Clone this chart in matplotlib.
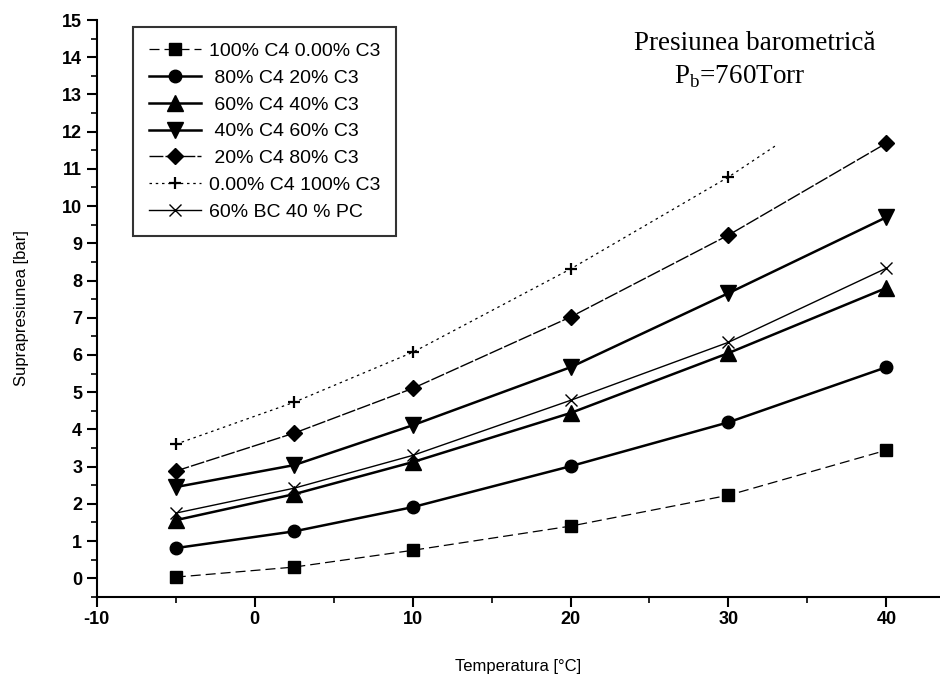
import matplotlib
matplotlib.use("Agg")
import matplotlib.pyplot as plt
from matplotlib.patches import Rectangle
from matplotlib.ticker import MultipleLocator
import numpy as np

# temperatures [°C]
temperatures = [-5, 2.5, 10, 20, 30, 40]

# overpressure [bar] per mixture
c4_100 = [0.03, 0.30, 0.75, 1.40, 2.23, 3.44]
c4_80 = [0.81, 1.26, 1.91, 3.01, 4.19, 5.67]
c4_60 = [1.56, 2.26, 3.12, 4.44, 6.05, 7.80]
c4_40 = [2.45, 3.04, 4.11, 5.67, 7.66, 9.70]
c4_20 = [2.88, 3.90, 5.10, 7.02, 9.22, 11.69]
c4_0 = [3.60, 4.73, 6.07, 8.31, 10.78, 13.60]
bc60_pc40 = [1.75, 2.42, 3.30, 4.78, 6.34, 8.33]

labels = [
    "100% C4 0.00% C3",
    " 80% C4 20% C3",
    " 60% C4 40% C3",
    " 40% C4 60% C3",
    " 20% C4 80% C3",
    "0.00% C4 100% C3",
    "60% BC 40 % PC",
]

plt.rcParams["font.family"] = ["Liberation Sans", "DejaVu Sans"]
plt.rcParams["axes.unicode_minus"] = False

fig = plt.figure(figsize=(9.4, 6.79), dpi=100)
ax = fig.add_axes([0.103, 0.121, 0.897, 0.8495])

ax.plot(temperatures, c4_100, color="black", lw=0.9, ls=(0, (8, 4)),
        marker="s", ms=9, label=labels[0], zorder=3)
ax.plot(temperatures, c4_80, color="black", lw=1.8, ls="-",
        marker="o", ms=9, label=labels[1], zorder=3)
ax.plot(temperatures, c4_60, color="black", lw=1.8, ls="-",
        marker="^", ms=11, label=labels[2], zorder=3)
ax.plot(temperatures, c4_40, color="black", lw=1.8, ls="-",
        marker="v", ms=11, label=labels[3], zorder=3)
ax.plot(temperatures, c4_20, color="black", lw=1.0, ls=(0, (10, 1.5)),
        marker="D", ms=8, label=labels[4], zorder=3)
ax.plot(temperatures, c4_0, color="black", lw=0.9, ls=(0, (2, 3)),
        marker="+", ms=9, mew=1.6, label=labels[5], zorder=2)
ax.plot(temperatures, bc60_pc40, color="black", lw=1.0, ls="-",
        marker="x", ms=9, mew=1.0, label=labels[6], zorder=3)

# white area behind the annotation hides the end of the 100% C3 curve
ax.add_patch(Rectangle((0.807, 0.775), 0.2, 0.24, transform=ax.transAxes,
                       facecolor="white", edgecolor="none", zorder=2.5))

ax.text(0.78, 0.96, "Presiunea barometrică", transform=ax.transAxes,
        ha="center", va="center", fontsize=19.5, family="Liberation Serif")
ax.text(0.762, 0.901, r"P$_\mathregular{b}$=760Torr", transform=ax.transAxes,
        ha="center", va="center", fontsize=19.5, family="Liberation Serif")

ax.set_xlim(-10, 43.4)
ax.set_ylim(-0.5, 15)
ax.xaxis.set_major_locator(MultipleLocator(10))
ax.xaxis.set_minor_locator(MultipleLocator(5))
ax.yaxis.set_major_locator(MultipleLocator(1))
ax.yaxis.set_minor_locator(MultipleLocator(0.5))
ax.set_yticks(np.arange(0, 16, 1))

for side in ["top", "right"]:
    ax.spines[side].set_visible(False)
ax.spines["left"].set_linewidth(1.5)
ax.spines["bottom"].set_linewidth(1.5)
ax.tick_params(which="major", direction="out", length=7, width=1.5,
               labelsize=13)
ax.tick_params(which="minor", direction="out", length=4, width=1.2)
for lbl in ax.get_xticklabels() + ax.get_yticklabels():
    lbl.set_fontweight("bold")

ax.set_xlabel("Temperatura [°C]", fontsize=12,
              family=["Liberation Sans Narrow", "Liberation Sans"],
              labelpad=22)
ax.set_ylabel("Suprapresiunea [bar]", fontsize=12, labelpad=24)

leg = ax.legend(loc="upper left", bbox_to_anchor=(0.043, 0.988),
                borderaxespad=0, fontsize=14, frameon=True, fancybox=False,
                edgecolor="black", handlelength=2.7, labelspacing=0.47,
                borderpad=0.8, handletextpad=0.4)
leg.get_frame().set_linewidth(1.5)

fig.savefig("out.png", dpi=100)
